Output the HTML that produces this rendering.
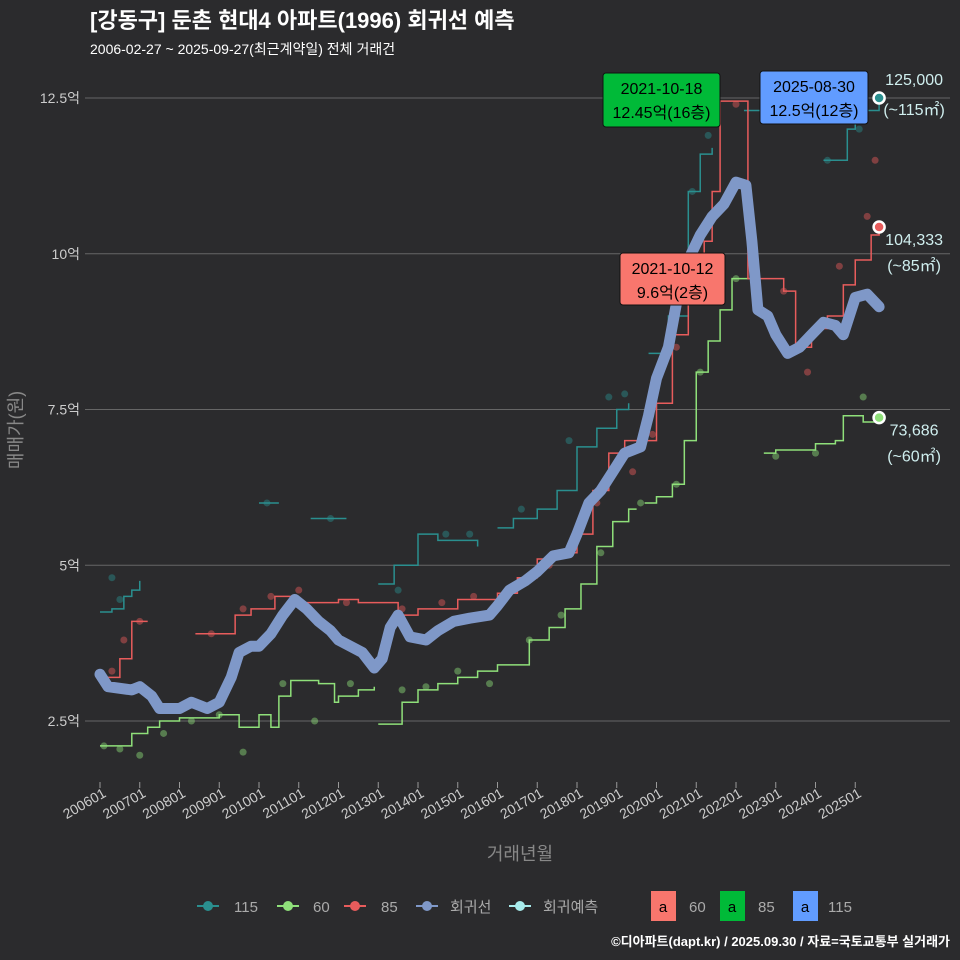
<!DOCTYPE html>
<html><head><meta charset="utf-8"><style>
body{margin:0;background:#2b2b2d;}
svg{display:block;font-family:"Liberation Sans","Noto Sans CJK KR",sans-serif;}
</style></head><body>
<svg id="chart" width="960" height="960" viewBox="0 0 960 960">
<rect width="960" height="960" fill="#2b2b2d"/>
<text x="90" y="28" font-size="22" font-weight="bold" fill="#fff">[강동구] 둔촌 현대4 아파트(1996) 회귀선 예측</text>
<text x="90" y="54" font-size="14" fill="#fff">2006-02-27 ~ 2025-09-27(최근계약일) 전체 거래건</text>
<g id="grid"></g>
<g id="marks"></g>
<text transform="translate(22,430) rotate(-90)" text-anchor="middle" font-size="18" fill="#888">매매가(원)</text>
<text x="520" y="860" text-anchor="middle" font-size="18" fill="#888">거래년월</text>
<g font-size="15" fill="#aaa">
<g><line x1="197" y1="906" x2="219" y2="906" stroke="#2a8f8f" stroke-width="2"/><circle cx="208" cy="906" r="5" fill="#2a8f8f"/><text x="234" y="912">115</text></g>
<g><line x1="277" y1="906" x2="299" y2="906" stroke="#8fe07a" stroke-width="2"/><circle cx="288" cy="906" r="5" fill="#8fe07a"/><text x="313" y="912">60</text></g>
<g><line x1="344" y1="906" x2="366" y2="906" stroke="#e85c5c" stroke-width="2"/><circle cx="355" cy="906" r="5" fill="#e85c5c"/><text x="381" y="912">85</text></g>
<g><line x1="416" y1="906" x2="438" y2="906" stroke="#7f98c8" stroke-width="2"/><circle cx="427" cy="906" r="5" fill="#7f98c8"/><text x="450" y="912">회귀선</text></g>
<g><line x1="509" y1="906" x2="531" y2="906" stroke="#a8ecec" stroke-width="2"/><circle cx="520" cy="906" r="5" fill="#a8ecec"/><text x="543" y="912">회귀예측</text></g>
<rect x="651" y="891" width="25" height="30" fill="#f8766d"/><text x="663" y="912" text-anchor="middle" fill="#000">a</text><text x="689" y="912">60</text>
<rect x="720" y="891" width="25" height="30" fill="#00ba38"/><text x="732" y="912" text-anchor="middle" fill="#000">a</text><text x="758" y="912">85</text>
<rect x="793" y="891" width="25" height="30" fill="#619cff"/><text x="805" y="912" text-anchor="middle" fill="#000">a</text><text x="828" y="912">115</text>
</g>
<text x="950" y="946" text-anchor="end" font-size="13" font-weight="bold" fill="#fff">©디아파트(dapt.kr) / 2025.09.30 / 자료=국토교통부 실거래가</text>
</svg>
<script>
const yTicks=[2.5,5,7.5,10,12.5];
const yTickLabels=["2.5억","5억","7.5억","10억","12.5억"];
const xTickYears=[2006,2007,2008,2009,2010,2011,2012,2013,2014,2015,2016,2017,2018,2019,2020,2021,2022,2023,2024,2025];
const regT=[2006.0,2006.2,2006.8,2007.0,2007.3,2007.5,2008.0,2008.3,2008.7,2009.0,2009.3,2009.5,2009.8,2010.0,2010.3,2010.6,2010.9,2011.2,2011.5,2011.8,2012.0,2012.3,2012.6,2012.9,2013.1,2013.3,2013.5,2013.8,2014.2,2014.5,2014.9,2015.3,2015.8,2016.0,2016.3,2016.7,2017.0,2017.4,2017.8,2018.0,2018.3,2018.6,2018.9,2019.2,2019.6,2019.8,2020.0,2020.3,2020.5,2020.8,2021.1,2021.4,2021.7,2022.0,2022.25,2022.4,2022.55,2022.8,2023.0,2023.3,2023.6,2023.9,2024.2,2024.5,2024.7,2025.0,2025.3,2025.6];
const regV=[3.25,3.05,3.0,3.05,2.9,2.7,2.7,2.8,2.7,2.8,3.2,3.6,3.7,3.7,3.9,4.2,4.45,4.3,4.1,3.95,3.8,3.7,3.6,3.35,3.5,4.0,4.2,3.85,3.8,3.95,4.1,4.15,4.2,4.35,4.6,4.75,4.9,5.15,5.2,5.5,6.0,6.2,6.5,6.8,6.9,7.4,8.0,8.5,9.2,9.9,10.3,10.6,10.8,11.15,11.1,10.2,9.1,9.0,8.7,8.4,8.5,8.7,8.9,8.85,8.7,9.3,9.35,9.15];
const s85T=[[2006.1,2006.5,2006.8,2007.2],[2008.4,2009.0,2009.4,2009.8,2010.4,2010.8,2011.3,2012.0,2012.5,2013.0,2013.5,2014.0,2014.5,2015.0,2015.5,2016.0,2016.5,2017.0,2017.5,2018.0,2018.4,2018.8,2019.2,2019.8,2020.0,2020.4,2020.8,2021.2,2021.4,2021.6,2022.2,2022.3,2023.0,2023.2,2023.5,2023.9,2024.3,2024.7,2025.0,2025.4,2025.6]];
const s85V=[[3.2,3.5,4.1,4.1],[3.9,3.9,4.2,4.3,4.5,4.4,4.4,4.45,4.4,4.4,4.2,4.3,4.3,4.45,4.45,4.55,4.8,5.1,5.2,5.5,6.2,6.8,7.0,7.0,7.6,8.7,9.8,10.2,11.0,12.45,12.45,9.6,9.6,9.4,8.5,8.8,9.0,9.5,9.9,10.3,10.43]];
const s60T=[[2006.0,2006.5,2006.8,2007.2,2007.5,2008.0,2008.6,2009.0,2009.5,2010.0,2010.3,2010.5,2010.8,2011.5,2011.9,2012.0,2012.5,2012.9],[2013.0,2013.5,2013.6,2014.0,2014.5,2015.0,2015.5,2016.0,2016.5,2016.8,2017.3,2017.7,2018.1,2018.5,2018.9,2019.3,2019.5],[2019.7,2020.0,2020.4,2020.7,2021.0,2021.3,2021.6,2021.9,2022.5],[2022.7,2023.0,2024.0,2024.5,2024.7,2025.0,2025.2,2025.6]];
const s60V=[[2.1,2.1,2.3,2.4,2.5,2.55,2.55,2.6,2.4,2.6,2.4,2.9,3.15,3.1,2.8,2.9,3.0,3.05],[2.45,2.45,2.8,3.0,3.1,3.2,3.3,3.4,3.4,3.8,4.0,4.3,4.7,5.3,5.7,5.9,5.9],[6.0,6.1,6.3,7.0,8.1,8.6,9.1,9.6,9.6],[6.8,6.85,6.95,7.0,7.4,7.4,7.3,7.37]];
const s115T=[[2006.0,2006.3,2006.6,2006.8,2007.0],[2010.0,2010.5],[2011.3,2012.2],[2013.0,2013.4,2013.8,2014.0,2014.5,2014.8,2015.2,2015.5],[2016.0,2016.4,2017.0,2017.5,2018.0,2018.5,2019.0,2019.3],[2019.8,2020.3,2020.8,2021.1,2021.4],[2022.2,2022.8],[2024.2,2024.5,2024.8,2025.0,2025.6]];
const s115V=[[4.25,4.3,4.5,4.6,4.75],[6.0,6.0],[5.75,5.75],[4.7,5.0,5.0,5.5,5.4,5.4,5.4,5.3],[5.6,5.75,5.9,6.2,6.9,7.2,7.5,7.6],[8.4,9.0,11.0,11.6,11.7],[12.3,12.3],[11.5,11.5,12.0,12.3,12.5]];
const pts85T=[2006.3,2006.6,2007.0,2008.8,2009.6,2010.3,2011.0,2012.2,2013.6,2014.6,2015.4,2016.2,2017.3,2018.5,2019.4,2019.9,2020.5,2021.3,2022.0,2023.2,2023.8,2024.6,2025.3,2025.5];
const pts85V=[3.3,3.8,4.1,3.9,4.3,4.5,4.6,4.4,4.3,4.4,4.5,4.5,5.0,6.0,6.5,7.1,8.5,10.5,12.4,9.4,8.1,9.8,10.6,11.5];
const pts60T=[2006.1,2006.5,2007.0,2007.6,2008.3,2009.0,2009.6,2010.6,2011.4,2012.3,2013.6,2014.2,2015.0,2015.8,2016.8,2017.6,2018.6,2019.6,2020.5,2021.1,2022.0,2023.0,2024.0,2025.2];
const pts60V=[2.1,2.05,1.95,2.3,2.5,2.6,2.0,3.1,2.5,3.1,3.0,3.05,3.3,3.1,3.8,4.2,5.2,6.0,6.3,8.1,9.6,6.75,6.8,7.7];
const pts115T=[2006.3,2006.5,2010.2,2011.8,2013.5,2014.7,2015.3,2016.6,2017.8,2018.8,2019.2,2020.3,2020.9,2021.3,2024.3,2025.1];
const pts115V=[4.8,4.45,6.0,5.75,4.6,5.5,5.5,5.9,7.0,7.7,7.75,8.4,11.0,11.9,11.5,12.0];
const NS="http://www.w3.org/2000/svg";
const X=t=>100+(t-2006)*39.75;
const Y=v=>98+(12.5-v)*62.3;
const grid=document.getElementById('grid'), marks=document.getElementById('marks');
function mk(tag,at,parent){const e=document.createElementNS(NS,tag);for(const k in at)e.setAttribute(k,at[k]);parent.appendChild(e);return e;}
yTicks.forEach((v,i)=>{
 const l=mk('line',{x1:85,x2:950,y1:Y(v),y2:Y(v),stroke:'#666','stroke-width':1},grid);
 
 
 const t=mk('text',{x:80,y:Y(v)+5,'text-anchor':'end','font-size':14,fill:'#ccc'},grid);
 t.textContent=yTickLabels[i];
 
 
});
xTickYears.forEach(yr=>{
 const x=X(yr);
 const tk=mk('line',{x1:x,x2:x,y1:782,y2:788,stroke:'#999'},grid);
 
 
 const t=mk('text',{transform:`translate(${x+7},796) rotate(-30)`,'text-anchor':'end','font-size':14,fill:'#ccc'},grid);
 t.textContent=yr+'01';
 
 
});
function path(T,V){return T.map((t,i)=>(i?'L':'M')+X(t).toFixed(1)+','+Y(V[i]).toFixed(1)).join('');}
function stepPath(T,V){let d='M'+X(T[0])+','+Y(V[0]);for(let i=1;i<T.length;i++){d+='H'+X(T[i])+'V'+Y(V[i]);}return d;}
function pts(T,V,c,name){T.forEach((t,i)=>{const p=mk('circle',{cx:X(t),cy:Y(V[i]),r:3.5,fill:c,'fill-opacity':0.45},marks);
 
 });}
pts(pts115T,pts115V,'#2a8f8f','point-115');
pts(pts60T,pts60V,'#8fe07a','point-60');
pts(pts85T,pts85V,'#e85c5c','point-85');
function lines(TT,VV,c,name){TT.forEach((T,i)=>{const p=mk('path',{d:stepPath(T,VV[i]),fill:'none',stroke:c,'stroke-width':1.5},marks);
 
 });}
lines(s115T,s115V,'#2a8f8f','line-115');
lines(s60T,s60V,'#8fe07a','line-60');
lines(s85T,s85V,'#e85c5c','line-85');
const reg=mk('path',{d:path(regT,regV),fill:'none',stroke:'#7f98c8','stroke-width':11,'stroke-linejoin':'round','stroke-linecap':'round'},marks);


const ends=[[2025.6,12.5,'#2a8f8f','125,000','(~115㎡)',-13,17],[2025.6,10.43,'#e85c5c','104,333','(~85㎡)',18,44],[2025.6,7.37,'#8fe07a','73,686','(~60㎡)',18,44]];
ends.forEach(e=>{
 const c=mk('circle',{cx:X(e[0]),cy:Y(e[1]),r:5.5,fill:e[2],stroke:'#fff','stroke-width':2.5},marks);
 
 
 const t1=mk('text',{x:X(e[0])+35,y:Y(e[1])+e[5],'text-anchor':'middle','font-size':16,fill:'#cfeeee'},marks);t1.textContent=e[3];
 
 
 const t2=mk('text',{x:X(e[0])+35,y:Y(e[1])+e[6],'text-anchor':'middle','font-size':16,fill:'#cfeeee'},marks);t2.textContent=e[4];
 
 
});
const boxes=[[603,73,117,54,'#00ba38','2021-10-18','12.45억(16층)','max-annotation-85'],[760,71,108,53,'#619cff','2025-08-30','12.5억(12층)','max-annotation-115'],[620,253,105,52,'#f8766d','2021-10-12','9.6억(2층)','max-annotation-60']];
boxes.forEach(b=>{
 const g=mk('g',{},marks);
 
 
 mk('rect',{x:b[0],y:b[1],width:b[2],height:b[3],rx:3,fill:b[4],stroke:'#111'},g);
 const a=mk('text',{x:b[0]+b[2]/2,y:b[1]+21,'text-anchor':'middle','font-size':16,fill:'#000'},g);a.textContent=b[5];
 const c=mk('text',{x:b[0]+b[2]/2,y:b[1]+45,'text-anchor':'middle','font-size':16,fill:'#000'},g);c.textContent=b[6];
});
</script>
</body></html>
